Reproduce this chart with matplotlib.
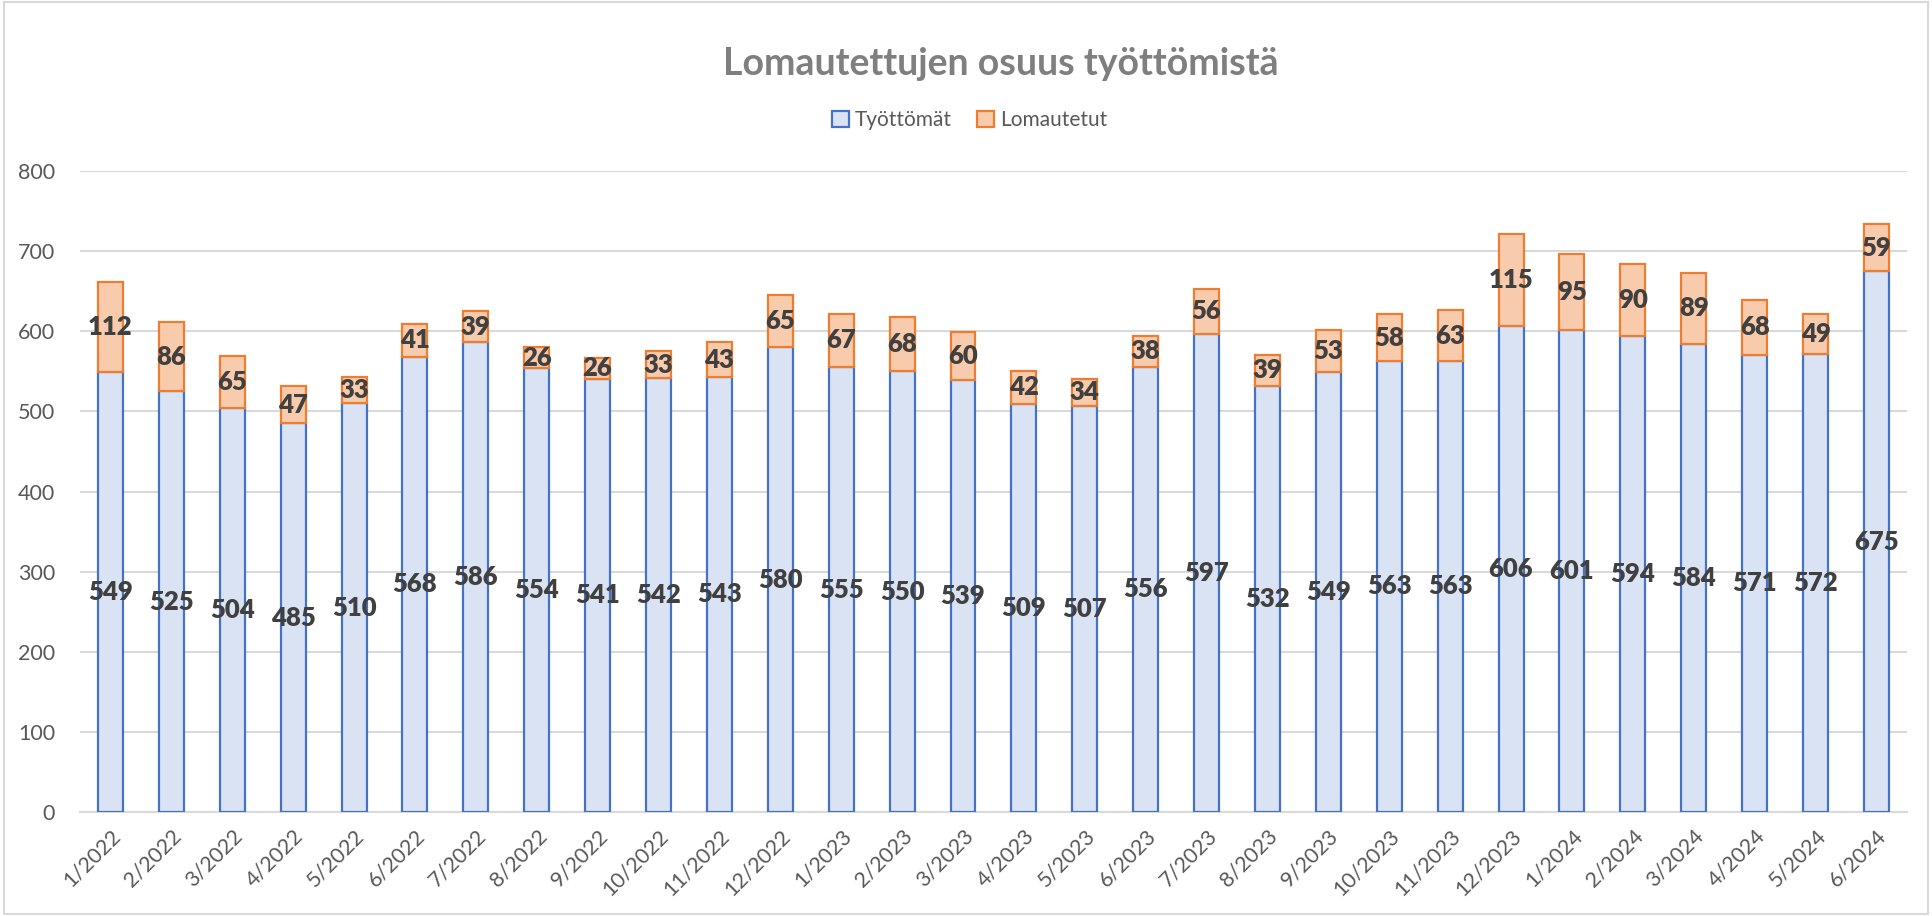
import matplotlib.pyplot as plt
from matplotlib.patches import Rectangle

# data
months = ["1/2022", "2/2022", "3/2022", "4/2022", "5/2022", "6/2022", "7/2022", "8/2022",
          "9/2022", "10/2022", "11/2022", "12/2022", "1/2023", "2/2023", "3/2023", "4/2023",
          "5/2023", "6/2023", "7/2023", "8/2023", "9/2023", "10/2023", "11/2023", "12/2023",
          "1/2024", "2/2024", "3/2024", "4/2024", "5/2024", "6/2024"]
tyottomat = [549, 525, 504, 485, 510, 568, 586, 554, 541, 542, 543, 580, 555, 550, 539,
             509, 507, 556, 597, 532, 549, 563, 563, 606, 601, 594, 584, 571, 572, 675]
lomautetut = [112, 86, 65, 47, 33, 41, 39, 26, 26, 33, 43, 65, 67, 68, 60,
              42, 34, 38, 56, 39, 53, 58, 63, 115, 95, 90, 89, 68, 49, 59]

plt.rcParams['font.family'] = ['Lato', 'DejaVu Sans']

fig = plt.figure(figsize=(19.32, 9.16), dpi=100)
ax = fig.add_axes([0.0414, 0.1135, 0.9456, 0.6998])

x = range(len(months))
w = 0.41
b1 = ax.bar(x, tyottomat, w, color="#DAE3F3", edgecolor="#4472C4", linewidth=1.6,
            label="Työttömät", zorder=3)
b2 = ax.bar(x, lomautetut, w, bottom=tyottomat, color="#F8CBAD", edgecolor="#ED7D31",
            linewidth=1.6, label="Lomautetut", zorder=3)

ax.bar_label(b1, label_type="center", fontsize=18.5, fontweight="heavy", color="#404040", zorder=4)
ax.bar_label(b2, label_type="center", fontsize=18.5, fontweight="heavy", color="#404040", zorder=4)

ax.set_ylim(0, 800)
ax.set_xlim(-0.5, len(months) - 0.5)
ax.set_yticks(range(0, 801, 100))
ax.yaxis.grid(True, color="#D9D9D9", linewidth=1.5, zorder=0)
ax.set_axisbelow(True)
ax.set_xticks(list(x))
ax.set_xticklabels(months, rotation=45, ha="right", rotation_mode="anchor")
ax.tick_params(axis="both", length=0, labelsize=15.5, labelcolor="#595959")
ax.tick_params(axis="y", pad=18)
ax.tick_params(axis="x", pad=10)
for s in ["top", "right", "left"]:
    ax.spines[s].set_visible(False)
ax.spines["bottom"].set_color("#D9D9D9")
ax.spines["bottom"].set_linewidth(1.5)

fig.text(0.518, 0.93, "Lomautettujen osuus työttömistä", ha="center", va="center",
         fontsize=27, fontweight="bold", color="#7F7F7F")
fig.legend(loc="center", bbox_to_anchor=(0.502, 0.869), ncol=2, frameon=False,
           fontsize=15, labelcolor="#595959", handlelength=0.8, handleheight=0.8,
           handletextpad=0.3, columnspacing=1.2)

# light frame round the chart
fig.patches.append(Rectangle((0.002, 0.002), 0.996, 0.996, transform=fig.transFigure,
                             fill=False, edgecolor="#D9D9D9", linewidth=1.5))

fig.savefig("out.png", dpi=100)
